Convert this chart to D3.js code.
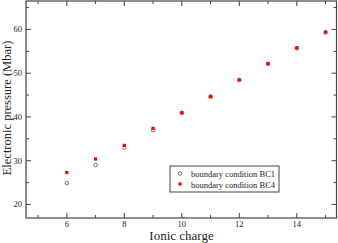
<!DOCTYPE html>
<html>
<head>
<meta charset="utf-8">
<script src="https://cdn.jsdelivr.net/npm/d3@7"></script>
<style>
  body { margin: 0; background: #fff; }
</style>
</head>
<body>
<script>
var charges = [6, 7, 8, 9, 10, 11, 12, 13, 14, 15];
var bc1 = [24.9, 29.0, 33.0, 37.0, 40.9, 44.6, 48.4, 52.1, 55.7, 59.3];
var bc4 = [27.3, 30.4, 33.5, 37.4, 41.0, 44.7, 48.5, 52.2, 55.8, 59.4];
var xTicks = [6, 8, 10, 12, 14];
var yTicks = [20, 30, 40, 50, 60];
var legendLabels = ["boundary condition BC1", "boundary condition BC4"];

var width = 338, height = 243;
var margin = { left: 26, right: 1.5, top: 1, bottom: 25 };

var svg = d3.select("body").append("svg")
  .attr("width", width)
  .attr("height", height)
  .attr("font-family", "'Liberation Serif', 'Times New Roman', 'DejaVu Serif', serif")
  .attr("fill", "#222");

var x = d3.scaleLinear().domain([4.58, 15.38]).range([margin.left, width - margin.right]);
var y = d3.scaleLinear().domain([16.9, 66.5]).range([height - margin.bottom, margin.top]);

var x0 = x.range()[0], x1 = x.range()[1], y0 = y.range()[0], y1 = y.range()[1];
var axisColor = "#444";

// ticks on all four sides, pointing inward
var xMinor = d3.range(5, 15.5, 1).filter(function (v) { return v % 2 === 1; });
var yMinor = d3.range(25, 66, 10);

var ticks = svg.append("g").attr("stroke", axisColor).attr("stroke-width", 1);
xTicks.forEach(function (v) {
  ticks.append("line").attr("x1", x(v)).attr("x2", x(v)).attr("y1", y0).attr("y2", y0 - 5);
  ticks.append("line").attr("x1", x(v)).attr("x2", x(v)).attr("y1", y1).attr("y2", y1 + 5);
});
xMinor.forEach(function (v) {
  ticks.append("line").attr("x1", x(v)).attr("x2", x(v)).attr("y1", y0).attr("y2", y0 - 3);
  ticks.append("line").attr("x1", x(v)).attr("x2", x(v)).attr("y1", y1).attr("y2", y1 + 3);
});
yTicks.forEach(function (v) {
  ticks.append("line").attr("y1", y(v)).attr("y2", y(v)).attr("x1", x0).attr("x2", x0 + 5);
  ticks.append("line").attr("y1", y(v)).attr("y2", y(v)).attr("x1", x1).attr("x2", x1 - 5);
});
yMinor.forEach(function (v) {
  ticks.append("line").attr("y1", y(v)).attr("y2", y(v)).attr("x1", x0).attr("x2", x0 + 3);
  ticks.append("line").attr("y1", y(v)).attr("y2", y(v)).attr("x1", x1).attr("x2", x1 - 3);
});

svg.append("rect")
  .attr("x", x0).attr("y", y1)
  .attr("width", x1 - x0).attr("height", y0 - y1)
  .attr("fill", "none")
  .attr("stroke", axisColor)
  .attr("stroke-width", 1.2);

// tick labels
svg.selectAll(".xl").data(xTicks).enter().append("text")
  .attr("x", function (d) { return x(d); })
  .attr("y", y0 + 9)
  .attr("text-anchor", "middle")
  .style("font-size", "8.5px")
  .text(function (d) { return d; });

svg.selectAll(".yl").data(yTicks).enter().append("text")
  .attr("x", x0 - 4)
  .attr("y", function (d) { return y(d) + 3; })
  .attr("text-anchor", "end")
  .style("font-size", "8.5px")
  .text(function (d) { return d; });

// axis titles
svg.append("text")
  .attr("x", 181.5)
  .attr("y", height - 3)
  .attr("text-anchor", "middle")
  .style("font-size", "13px")
  .text("Ionic charge");

svg.append("text")
  .attr("transform", "translate(11,108) rotate(-90)")
  .attr("text-anchor", "middle")
  .style("font-size", "12.5px")
  .text("Electronic pressure (Mbar)");

// data points
svg.selectAll(".bc1").data(charges).enter().append("circle")
  .attr("cx", function (d) { return x(d); })
  .attr("cy", function (d, i) { return y(bc1[i]); })
  .attr("r", 1.8)
  .attr("fill", "none")
  .attr("stroke", "#666")
  .attr("stroke-width", 0.9);

svg.selectAll(".bc4").data(charges).enter().append("rect")
  .attr("x", function (d) { return x(d) - 1.6; })
  .attr("y", function (d, i) { return y(bc4[i]) - 1.6; })
  .attr("width", 3.2)
  .attr("height", 3.2)
  .attr("fill", "#ff0000");

// legend
var lg = svg.append("g").attr("transform", "translate(170,166)");
lg.append("rect")
  .attr("width", 109).attr("height", 26)
  .attr("fill", "#fff")
  .attr("stroke", axisColor)
  .attr("stroke-width", 1);
lg.append("circle").attr("cx", 10).attr("cy", 7.5).attr("r", 1.8)
  .attr("fill", "none").attr("stroke", "#666").attr("stroke-width", 0.9);
lg.append("rect").attr("x", 8.4).attr("y", 16.4).attr("width", 3.2).attr("height", 3.2)
  .attr("fill", "#ff0000");
lg.selectAll(".lt").data(legendLabels).enter().append("text")
  .attr("x", 21)
  .attr("y", function (d, i) { return 10.5 + i * 11; })
  .attr("fill", "#222")
  .style("font-size", "8.5px")
  .text(function (d) { return d; });
</script>
</body>
</html>
